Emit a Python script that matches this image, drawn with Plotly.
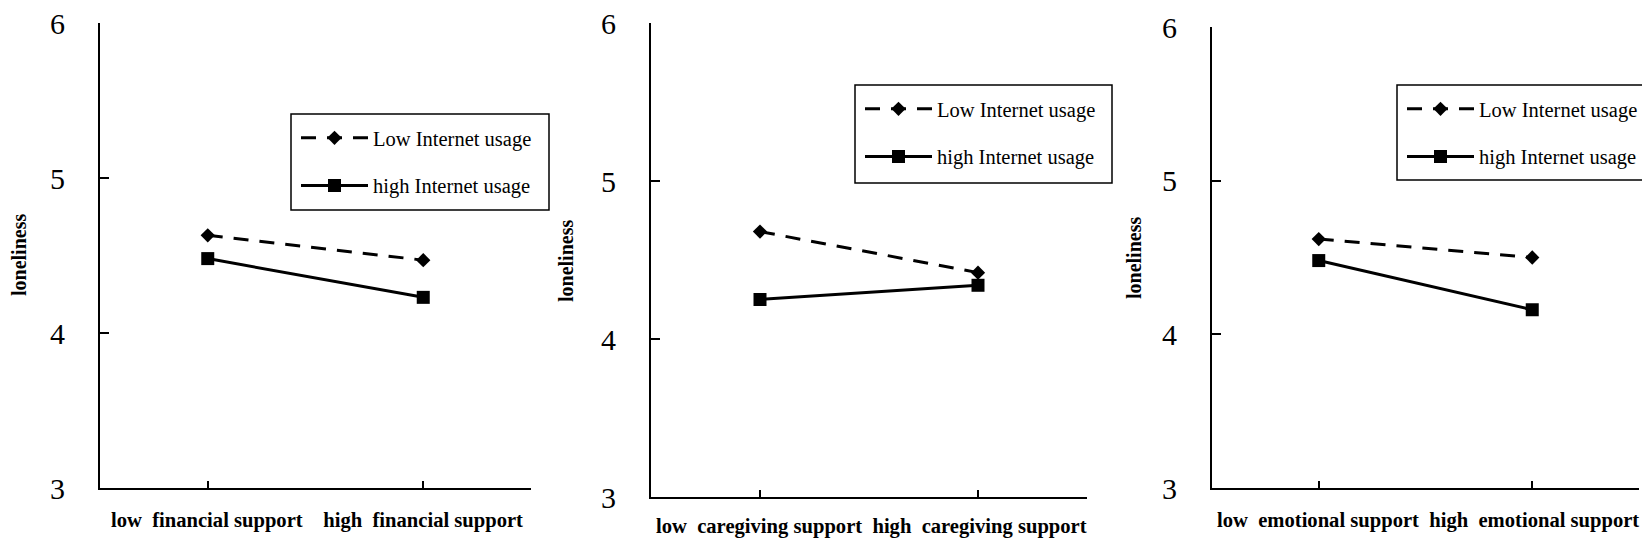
import plotly.graph_objects as go

# moderation plots: loneliness by support level, split by internet usage
support_levels = [1, 3]  # low / high position on the x axis
y_ticks = [3, 4, 5, 6]

low_usage_financial = [4.63, 4.47]
high_usage_financial = [4.48, 4.23]
low_usage_caregiving = [4.68, 4.42]
high_usage_caregiving = [4.25, 4.34]
low_usage_emotional = [4.62, 4.50]
high_usage_emotional = [4.48, 4.16]

series_names = ["Low Internet usage", "high Internet usage"]
NB = "\u00a0"
x_titles = [
    f"low{NB*2}financial support{NB*4}high{NB*2}financial support",
    f"low{NB*2}caregiving support{NB*2}high{NB*2}caregiving support",
    f"low{NB*2}emotional support{NB*2}high{NB*2}emotional support",
]
y_title = "loneliness"

W, H = 1650, 550
SERIF = "Liberation Serif, Times New Roman, serif"


def px(x):
    return x / W


def py(y):
    return 1 - y / H


# pixel geometry per panel: axis left/right, y of 3 and 6, legend box, title spots
panels = [
    dict(low=low_usage_financial, high=high_usage_financial,
         x0=92, x1=523, ybot=480, ytop=15, box=(283, 106, 541, 202),
         ytitle=(11, 247), xtitle=(309, 512)),
    dict(low=low_usage_caregiving, high=high_usage_caregiving,
         x0=643, x1=1079, ybot=489, ytop=15, box=(847, 77, 1104, 175),
         ytitle=(558, 253), xtitle=(863, 518)),
    dict(low=low_usage_emotional, high=high_usage_emotional,
         x0=1204, x1=1631, ybot=480, ytop=19, box=(1389, 77, 1645, 172),
         ytitle=(1126, 250), xtitle=(1420, 512)),
]

fig = go.Figure()
layout = dict(
    width=W, height=H,
    margin=dict(l=0, r=0, t=0, b=0),
    paper_bgcolor="white",
    plot_bgcolor="white",
    font=dict(family=SERIF, color="black"),
    annotations=[],
    shapes=[],
)

for i, p in enumerate(panels):
    n = "" if i == 0 else str(i + 1)
    leg = "legend" + n

    fig.add_trace(go.Scatter(
        x=support_levels, y=p["low"],
        mode="lines+markers",
        name=series_names[0],
        line=dict(color="black", width=3, dash="15px,11px"),
        marker=dict(symbol="diamond", size=11, color="black"),
        xaxis="x" + n, yaxis="y" + n,
        legend=leg, legendgroup=f"low{i}",
    ))
    fig.add_trace(go.Scatter(
        x=support_levels, y=p["high"],
        mode="lines+markers",
        name=series_names[1],
        line=dict(color="black", width=3),
        marker=dict(symbol="square", size=13, color="black"),
        xaxis="x" + n, yaxis="y" + n,
        legend=leg, legendgroup=f"high{i}",
    ))

    layout["xaxis" + n] = dict(
        domain=[px(p["x0"]), px(p["x1"])],
        anchor="y" + n,
        range=[0, 4],
        tickvals=[0, 1, 3, 4],
        ticks="inside", ticklen=7, tickwidth=2, tickcolor="black",
        showticklabels=False,
        showline=True, linecolor="black", linewidth=2,
        showgrid=False, zeroline=False, fixedrange=True, automargin=False,
    )
    layout["yaxis" + n] = dict(
        domain=[py(p["ybot"]), py(p["ytop"])],
        anchor="x" + n,
        range=[3, 6],
        tickvals=y_ticks,
        ticks="inside", ticklen=9, tickwidth=2, tickcolor="black",
        tickfont=dict(family=SERIF, size=30, color="black"),
        ticklabelstandoff=27, ticklabeloverflow="allow",
        showline=True, linecolor="black", linewidth=2,
        showgrid=False, zeroline=False, fixedrange=True, automargin=False,
    )

    # legend frame drawn as a shape so it can match the reference box size
    bx0, by0, bx1, by1 = p["box"]
    layout["shapes"].append(dict(
        type="rect", xref="paper", yref="paper",
        x0=px(bx0), x1=px(bx1), y0=py(by1), y1=py(by0),
        line=dict(color="black", width=1.5), fillcolor="rgba(0,0,0,0)",
    ))
    layout[leg] = dict(
        x=px(bx0 + 5), y=py(by0 + 4),
        xanchor="left", yanchor="top",
        bgcolor="rgba(0,0,0,0)", borderwidth=0,
        font=dict(family=SERIF, size=20.5, color="black"),
        itemwidth=67,
        traceorder="grouped", tracegroupgap=18,
    )

    layout["annotations"].append(dict(
        text=f"<b>{y_title}</b>", textangle=-90,
        x=px(p["ytitle"][0]), y=py(p["ytitle"][1]),
        xref="paper", yref="paper", xanchor="center", yanchor="middle",
        showarrow=False, font=dict(family=SERIF, size=20, color="black"),
    ))
    layout["annotations"].append(dict(
        text=f"<b>{x_titles[i]}</b>",
        x=px(p["xtitle"][0]), y=py(p["xtitle"][1]),
        xref="paper", yref="paper", xanchor="center", yanchor="middle",
        showarrow=False, font=dict(family=SERIF, size=20.6, color="black"),
    ))

fig.update_layout(**layout)
fig.write_html("out.html")
